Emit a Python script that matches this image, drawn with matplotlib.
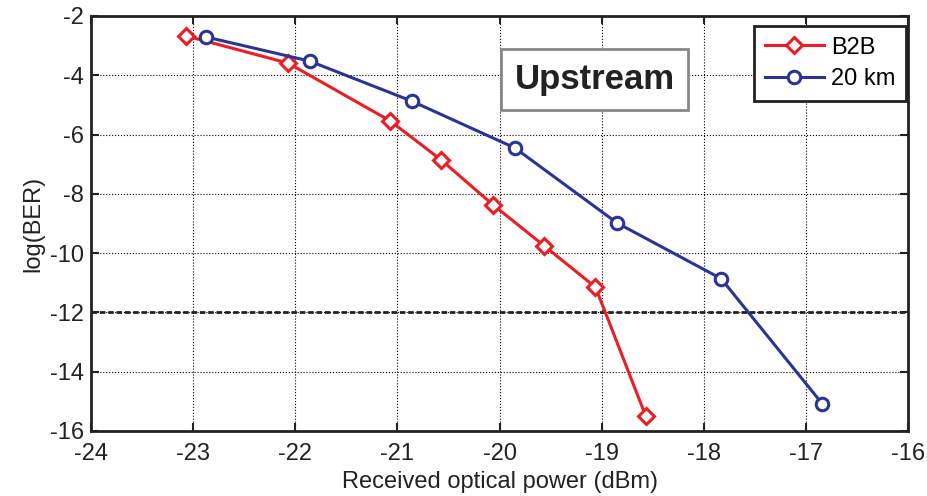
import matplotlib
matplotlib.use("Agg")
import matplotlib.pyplot as plt

plt.rcParams['font.family'] = ['Liberation Sans', 'DejaVu Sans']
plt.rcParams['axes.unicode_minus'] = False

b2b_x = [-23.07, -22.07, -21.07, -20.57, -20.06, -19.56, -19.06, -18.57]
b2b_y = [-2.67, -3.59, -5.54, -6.86, -8.38, -9.76, -11.15, -15.48]
km20_x = [-22.87, -21.86, -20.86, -19.85, -18.85, -17.83, -16.84]
km20_y = [-2.71, -3.52, -4.87, -6.45, -8.98, -10.86, -15.08]
threshold = -12

fig = plt.figure(figsize=(9.27, 4.96), dpi=100)
ax = fig.add_axes([91 / 927, 1 - 431 / 496, 817 / 927, 415 / 496])

ax.axhline(threshold, color='#222222', linestyle=(0, (2, 1)), linewidth=2, zorder=2)
ax.plot(b2b_x, b2b_y, '-D', color='#ee1c24', linewidth=2.2, markersize=8,
        markerfacecolor='white', markeredgewidth=2.2, label='B2B', zorder=3)
ax.plot(km20_x, km20_y, '-o', color='#2b3494', linewidth=2.2, markersize=9,
        markerfacecolor='white', markeredgewidth=2.2, label='20 km', zorder=3)

ax.set_xlim(-24, -16)
ax.set_ylim(-16, -2)
ax.set_xticks(range(-24, -15))
ax.set_yticks(range(-16, -1, 2))
ax.grid(True, color='black', linestyle=':', linewidth=0.8)
ax.tick_params(direction='in', labelsize=17, length=6, width=1.5, colors='#222222',
               right=True, top=True)
ax.tick_params(axis='x', pad=9)
ax.tick_params(axis='y', pad=5)
for s in ax.spines.values():
    s.set_linewidth(2)
    s.set_color('#222222')

ax.set_xlabel('Received optical power (dBm)', fontsize=17, color='#222222', labelpad=4)
ax.set_ylabel('log(BER)', fontsize=17, color='#222222', labelpad=4)

ax.text(-19.07, -4.13, 'Upstream', fontsize=25, fontweight='bold', color='#222222',
        ha='center', va='center', zorder=5,
        bbox=dict(boxstyle='square,pad=0.4', facecolor='white', edgecolor='#888888', linewidth=2))

leg = ax.legend(loc='upper right', bbox_to_anchor=(0.9976, 0.976), borderaxespad=0,
                fontsize=17, fancybox=False, framealpha=1, edgecolor='#222222',
                handlelength=2.5, handletextpad=0.3, labelspacing=0.4, borderpad=0.45)
leg.get_frame().set_linewidth(2)

fig.savefig('out.png', dpi=100)
